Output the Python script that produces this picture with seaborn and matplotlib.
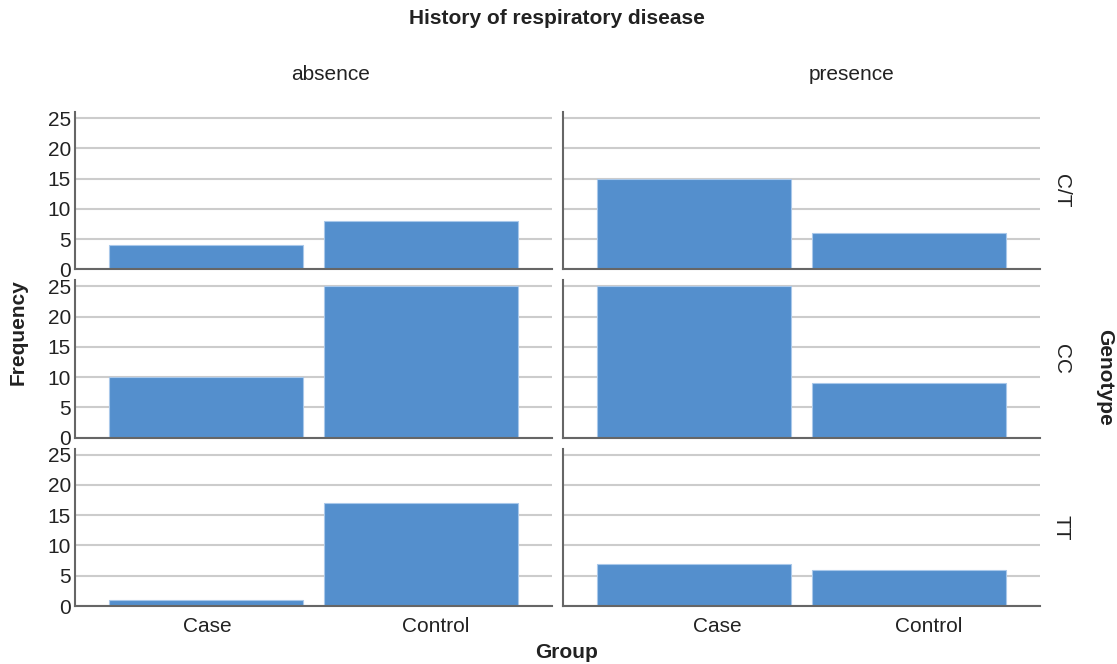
import matplotlib
matplotlib.use("Agg")
import matplotlib.pyplot as plt
import matplotlib.transforms as mtransforms
import seaborn as sns
import pandas as pd

genotypes = ["C/T", "CC", "TT"]
history = ["absence", "presence"]
groups = ["Case", "Control"]
# values per genotype: [absence Case, absence Control, presence Case, presence Control]
ct_values = [4, 8, 15, 6]
cc_values = [10, 25, 25, 9]
tt_values = [1, 17, 7, 6]

rows = []
for g, vals in zip(genotypes, [ct_values, cc_values, tt_values]):
    i = 0
    for h in history:
        for grp in groups:
            rows.append({"Genotype": g, "History": h, "Group": grp, "Frequency": vals[i]})
            i += 1
df = pd.DataFrame(rows)

sns.set_theme(style="white")
plt.rcParams["font.family"] = ["Liberation Sans", "DejaVu Sans"]
plt.rcParams["text.color"] = "#222222"
plt.rcParams["axes.labelcolor"] = "#222222"
plt.rcParams["xtick.color"] = "#222222"
plt.rcParams["ytick.color"] = "#222222"

FS = 15
W, H = 1117, 664
g = sns.catplot(data=df, x="Group", y="Frequency", row="Genotype", col="History",
                kind="bar", order=groups, row_order=genotypes, col_order=history,
                color="#548fcd", saturation=1, width=0.9, margin_titles=True,
                edgecolor="#a9c8ea", linewidth=0.8, errorbar=None,
                height=2, aspect=2)
fig = g.figure
fig.set_size_inches(W / 100, H / 100)
fig.subplots_adjust(left=75 / W, right=1040 / W, top=1 - 112 / H, bottom=1 - 606 / H,
                    wspace=11 / 477, hspace=11 / 158)

g.set_titles(row_template="", col_template="")
for ax in g.axes.flat:
    ax.set_ylim(0, 26)
    ax.set_xlim(-0.61, 1.61)
    ax.set_yticks([0, 5, 10, 15, 20, 25])
    ax.yaxis.grid(True, color="#cccccc", linewidth=1.5)
    ax.set_axisbelow(True)
    for s in ["top", "right"]:
        ax.spines[s].set_visible(False)
    for s in ["left", "bottom"]:
        ax.spines[s].set_color("#666666")
        ax.spines[s].set_linewidth(1.5)
    ax.tick_params(axis="both", length=0, labelsize=FS)
    ax.tick_params(axis="y", pad=3)
    ax.tick_params(axis="x", pad=8)
    ax.set_xlabel("")
    ax.set_ylabel("")
    ax.set_title("")

# remove margin texts created by seaborn
for ax in g.axes.flat:
    for t in list(ax.texts):
        t.remove()

# slight horizontal shifts of the category labels as in the reference
label_shift_px = [[1, 15], [23, 20]]
for j in range(2):
    ax = g.axes[-1, j]
    for lab, dx in zip(ax.get_xticklabels(), label_shift_px[j]):
        lab.set_transform(lab.get_transform() +
                          mtransforms.ScaledTranslation(dx / 100, 0, fig.dpi_scale_trans))

col_title_x = [331, 852]
for h, xpx in zip(history, col_title_x):
    fig.text(xpx / W, 1 - 75 / H, h, ha="center", va="center", fontsize=FS)
for i, gt in enumerate(genotypes):
    ax = g.axes[i, 1]
    ax.text(1.045, 0.5, gt, transform=ax.transAxes, rotation=270,
            ha="center", va="center", fontsize=FS)

fig.text(557 / W, 1 - 18 / H, "History of respiratory disease", fontsize=FS,
         fontweight="bold", ha="center", va="center")
fig.text(18 / W, 1 - 332 / H, "Frequency", rotation=90, ha="center", va="center",
         fontsize=FS, fontweight="bold")
fig.text(1105 / W, 1 - 377 / H, "Genotype", rotation=270, ha="center", va="center",
         fontsize=FS, fontweight="bold")
fig.text(567 / W, 1 - 653 / H, "Group", ha="center", va="center",
         fontsize=FS, fontweight="bold")

fig.savefig("out.png", dpi=100)
